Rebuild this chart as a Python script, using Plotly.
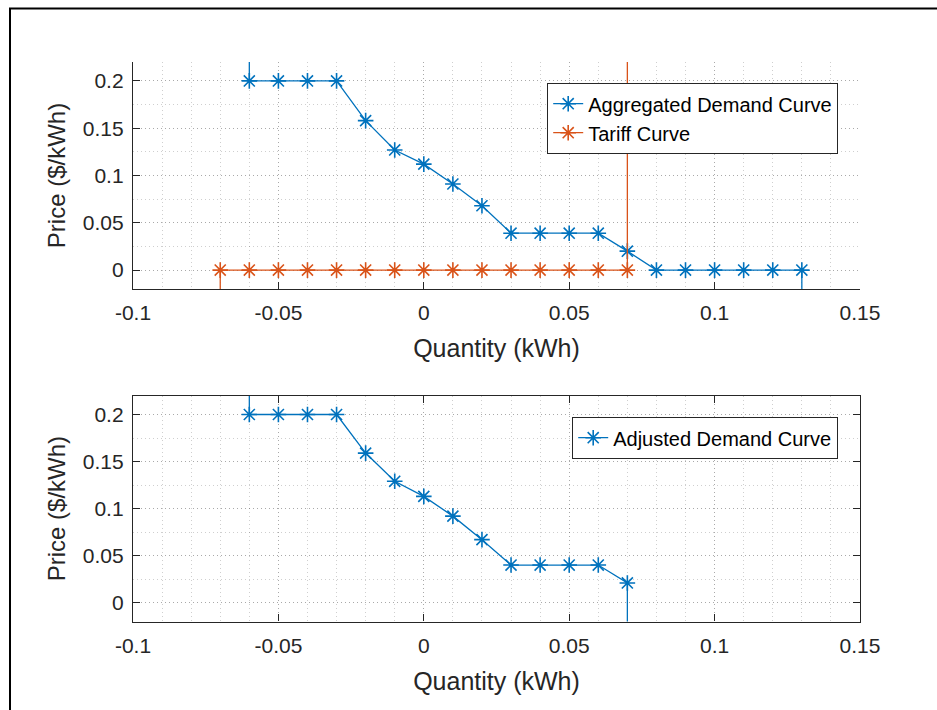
import plotly.graph_objects as go

# ---- data ----
qty_agg = [-0.06, -0.06, -0.05, -0.04, -0.03, -0.02, -0.01, 0.0, 0.01, 0.02, 0.03,
           0.04, 0.05, 0.06, 0.07, 0.08, 0.09, 0.10, 0.11, 0.12, 0.13, 0.13]
price_agg = [1.0, 0.2, 0.2, 0.2, 0.2, 0.158, 0.127, 0.112, 0.091, 0.068, 0.039,
             0.039, 0.039, 0.039, 0.020, 0.0, 0.0, 0.0, 0.0, 0.0, 0.0, -1.0]

qty_tariff = [-0.07, -0.07, -0.06, -0.05, -0.04, -0.03, -0.02, -0.01, 0.0, 0.01, 0.02,
              0.03, 0.04, 0.05, 0.06, 0.07, 0.07]
price_tariff = [-1.0, 0.0, 0.0, 0.0, 0.0, 0.0, 0.0, 0.0, 0.0, 0.0, 0.0,
                0.0, 0.0, 0.0, 0.0, 0.0, 1.0]

qty_adj = [-0.06, -0.06, -0.05, -0.04, -0.03, -0.02, -0.01, 0.0, 0.01, 0.02, 0.03,
           0.04, 0.05, 0.06, 0.07, 0.07]
price_adj = [1.0, 0.2, 0.2, 0.2, 0.2, 0.159, 0.129, 0.113, 0.092, 0.067, 0.040,
             0.040, 0.040, 0.040, 0.021, -1.0]

x_tickvals = [-0.1, -0.05, 0, 0.05, 0.1, 0.15]
x_ticktext = ["-0.1", "-0.05", "0", "0.05", "0.1", "0.15"]
y_tickvals = [0, 0.05, 0.1, 0.15, 0.2]
y_ticktext = ["0", "0.05", "0.1", "0.15", "0.2"]

BLUE = "#0072BD"
ORANGE = "#D95319"
AX = "#262626"
GRID = "rgba(38,38,38,0.22)"
DOT = "1px,3px"
FONT = "Liberation Sans, Arial, sans-serif"

fig = go.Figure()

def add(x, y, name, color, xa, ya, legend):
    fig.add_trace(go.Scatter(
        x=x, y=y, name=name, mode="lines+markers", xaxis=xa, yaxis=ya, legend=legend,
        line=dict(color=color, width=1.3),
        marker=dict(symbol="asterisk-open", size=13, color=color,
                    line=dict(color=color, width=1.6)),
    ))

add(qty_agg, price_agg, "Aggregated Demand Curve", BLUE, "x", "y", "legend")
add(qty_tariff, price_tariff, "Tariff Curve", ORANGE, "x", "y", "legend")
add(qty_adj, price_adj, "Adjusted Demand Curve", BLUE, "x2", "y2", "legend2")

W, H = 937, 710

def xaxis(mirror, anchor):
    return dict(
        domain=[133 / W, 860 / W], range=[-0.1, 0.15], anchor=anchor,
        tickmode="array", tickvals=x_tickvals, ticktext=x_ticktext,
        ticks="inside", ticklen=7, tickwidth=1.2, tickcolor=AX,
        showline=True, linecolor=AX, linewidth=1.4, mirror=mirror,
        showgrid=True, gridcolor=GRID, griddash=DOT, gridwidth=1,
        minor=dict(tickmode="linear", tick0=0, dtick=0.01, showgrid=True,
                   gridcolor=GRID, griddash=DOT, gridwidth=1, ticks=""),
        zeroline=False, automargin=False, ticklabelstandoff=5,
        tickfont=dict(family=FONT, size=21, color=AX),
        title=dict(text="Quantity (kWh)", font=dict(family=FONT, size=25, color=AX), standoff=16),
    )

def yaxis(dom, mirror, anchor):
    return dict(
        domain=dom, range=[-0.02, 0.22], anchor=anchor,
        tickmode="array", tickvals=y_tickvals, ticktext=y_ticktext,
        ticks="inside", ticklen=7, tickwidth=1.2, tickcolor=AX,
        showline=True, linecolor=AX, linewidth=1.4, mirror=mirror,
        showgrid=True, gridcolor=GRID, griddash=DOT, gridwidth=1,
        minor=dict(tickmode="linear", tick0=0, dtick=0.025, showgrid=True,
                   gridcolor=GRID, griddash=DOT, gridwidth=1, ticks=""),
        zeroline=False, automargin=False, ticklabelstandoff=4,
        tickfont=dict(family=FONT, size=21, color=AX),
        title=dict(text="Price ($/kWh)", font=dict(family=FONT, size=24, color=AX), standoff=10),
    )

top_dom = [1 - 289 / H, 1 - 62 / H]
bot_dom = [1 - 621.5 / H, 1 - 395.7 / H]

legend_style = dict(bgcolor="white", bordercolor=AX, borderwidth=1.2,
                    font=dict(family=FONT, size=20, color="black"),
                    xanchor="right", yanchor="top")

fig.update_layout(
    width=W, height=H,
    margin=dict(l=0, r=0, t=0, b=0),
    paper_bgcolor="white", plot_bgcolor="white",
    font=dict(family=FONT, color=AX),
    xaxis=xaxis(False, "y"),
    yaxis=yaxis(top_dom, False, "x"),
    xaxis2=xaxis("ticks", "y2"),
    yaxis2=yaxis(bot_dom, "ticks", "x2"),
    legend=dict(x=838 / W, y=1 - 83 / H, **legend_style),
    legend2=dict(x=838 / W, y=1 - 417 / H, **legend_style),
    showlegend=True,
)

# outer figure frame
fig.add_shape(type="rect", xref="paper", yref="paper",
              x0=10 / W, x1=1.05, y0=-0.05, y1=1 - 8.5 / H,
              line=dict(color="black", width=2), fillcolor="rgba(0,0,0,0)", layer="below")

fig.write_html("out.html")
